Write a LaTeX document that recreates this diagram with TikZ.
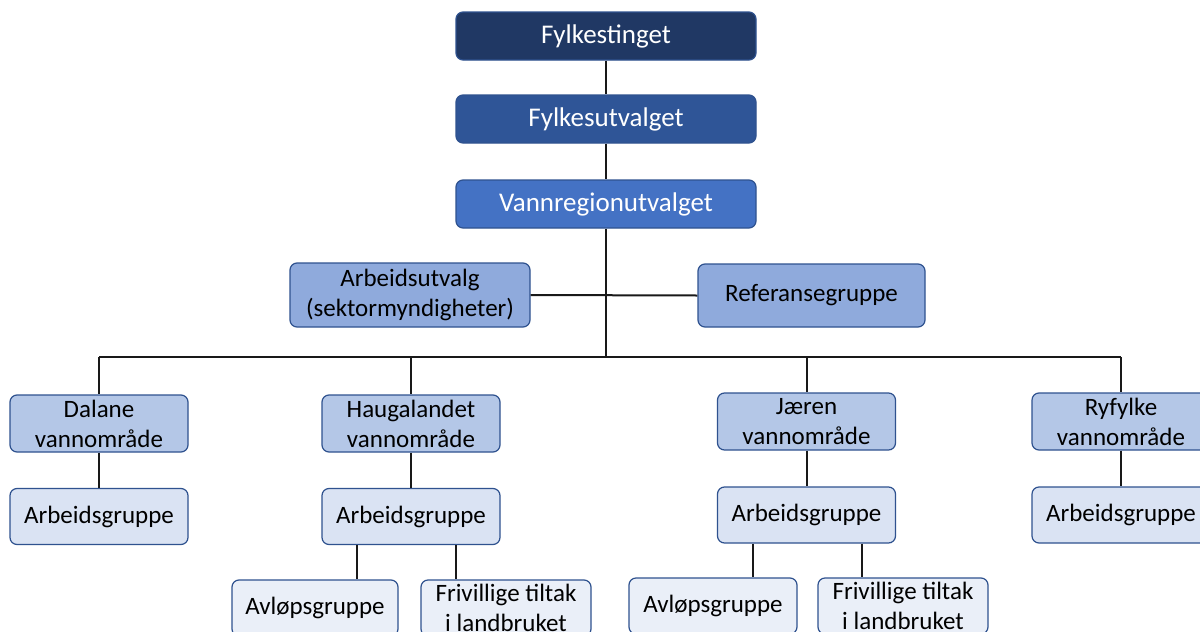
\documentclass[tikz,border=0pt]{standalone}
\usepackage{fontspec}
\setmainfont{Carlito}
\definecolor{cA}{HTML}{203864}
\definecolor{cB}{HTML}{2F5597}
\definecolor{cC}{HTML}{4472C4}
\definecolor{cD}{HTML}{8FAADC}
\definecolor{cE}{HTML}{B4C7E7}
\definecolor{cF}{HTML}{DAE3F3}
\definecolor{cG}{HTML}{EAEFF8}
\definecolor{bord}{HTML}{2F528F}
\tikzset{
  box/.style={rectangle, rounded corners=3.5pt, draw=bord, line width=0.6pt, inner sep=0pt, align=center},
  topbox/.style={box, minimum width=150pt, minimum height=24pt, text=white, font=\fontsize{13.5}{16}\selectfont},
  lowbox/.style={box, text=black, font=\fontsize{12.5}{15}\selectfont},
  vbox/.style={lowbox, fill=cE, minimum width=89pt, minimum height=28.5pt},
  agbox/.style={lowbox, fill=cF, minimum width=89pt, minimum height=28pt},
  subbox/.style={lowbox, fill=cG, minimum width=84pt, minimum height=28pt},
  conn/.style={line width=1pt, draw=black!90}
}
\begin{document}
\begin{tikzpicture}[x=0.5pt,y=-0.5pt]
\useasboundingbox (0,0) rectangle (1200,632);
\clip (0,0) rectangle (1200,632);
\fill[white] (0,0) rectangle (1200,632);
% top
\node[topbox, fill=cA] (fylkesting) at (606,36) {Fylkestinget};
\node[topbox, fill=cB] (fylkesutv) at (606,119) {Fylkesutvalget};
\node[topbox, fill=cC] (vannreg) at (606,204) {Vannregionutvalget};
\node[lowbox, fill=cD, minimum width=120pt, minimum height=32pt] (arbutv) at (410,295) {Arbeidsutvalg\\(sektormyndigheter)};
\node[lowbox, fill=cD, minimum width=113.5pt, minimum height=31.5pt] (ref) at (811.5,295.5) {Referansegruppe};
% vannomraader
\node[vbox] (dalane) at (99,423.5) {Dalane\\vannområde};
\node[vbox] (haug) at (411,423.5) {Haugalandet\\vannområde};
\node[vbox] (jaeren) at (806.5,421.5) {Jæren\\vannområde};
\node[vbox] (ryfylke) at (1121,421.5) {Ryfylke\\vannområde};
% arbeidsgrupper
\node[agbox] (dalAG) at (99,516.5) {Arbeidsgruppe};
\node[agbox] (haugAG) at (411,516.5) {Arbeidsgruppe};
\node[agbox] (jaerAG) at (806.5,515) {Arbeidsgruppe};
\node[agbox] (ryfAG) at (1121,515) {Arbeidsgruppe};
% sub groups
\node[subbox, minimum width=83pt] (haugAv) at (315,608) {Avløpsgruppe};
\node[subbox, minimum width=85pt] (haugFri) at (506,608) {Frivillige tiltak\\i landbruket};
\node[subbox, minimum width=84pt] (jaerAv) at (713,606) {Avløpsgruppe};
\node[subbox, minimum width=85pt] (jaerFri) at (903,606) {Frivillige tiltak\\i landbruket};
% bus coordinates
\coordinate (bus) at (606,357);
\coordinate (busL) at (99,357);
\coordinate (busR) at (1121,357);
% connectors
\draw[conn] (fylkesting) -- (fylkesutv);
\draw[conn] (fylkesutv) -- (vannreg);
\draw[conn] (vannreg.south) -- (bus);
\draw[conn] (arbutv.east) -- (ref.west);
\draw[conn] (busL) -- (busR);
\draw[conn] (busL) -- (dalane.north);
\draw[conn] (haug.north |- bus) -- (haug.north);
\draw[conn] (jaeren.north |- bus) -- (jaeren.north);
\draw[conn] (busR) -- (ryfylke.north);
\draw[conn] (dalane) -- (dalAG);
\draw[conn] (haug) -- (haugAG);
\draw[conn] (jaeren) -- (jaerAG);
\draw[conn] (ryfylke) -- (ryfAG);
\draw[conn] ([xshift=-27pt]haugAG.south) -- ([xshift=-27pt]haugAG.south |- haugAv.north);
\draw[conn] ([xshift=22.5pt]haugAG.south) -- ([xshift=22.5pt]haugAG.south |- haugFri.north);
\draw[conn] ([xshift=-26.75pt]jaerAG.south) -- ([xshift=-26.75pt]jaerAG.south |- jaerAv.north);
\draw[conn] ([xshift=27.75pt]jaerAG.south) -- ([xshift=27.75pt]jaerAG.south |- jaerFri.north);
\end{tikzpicture}
\end{document}
